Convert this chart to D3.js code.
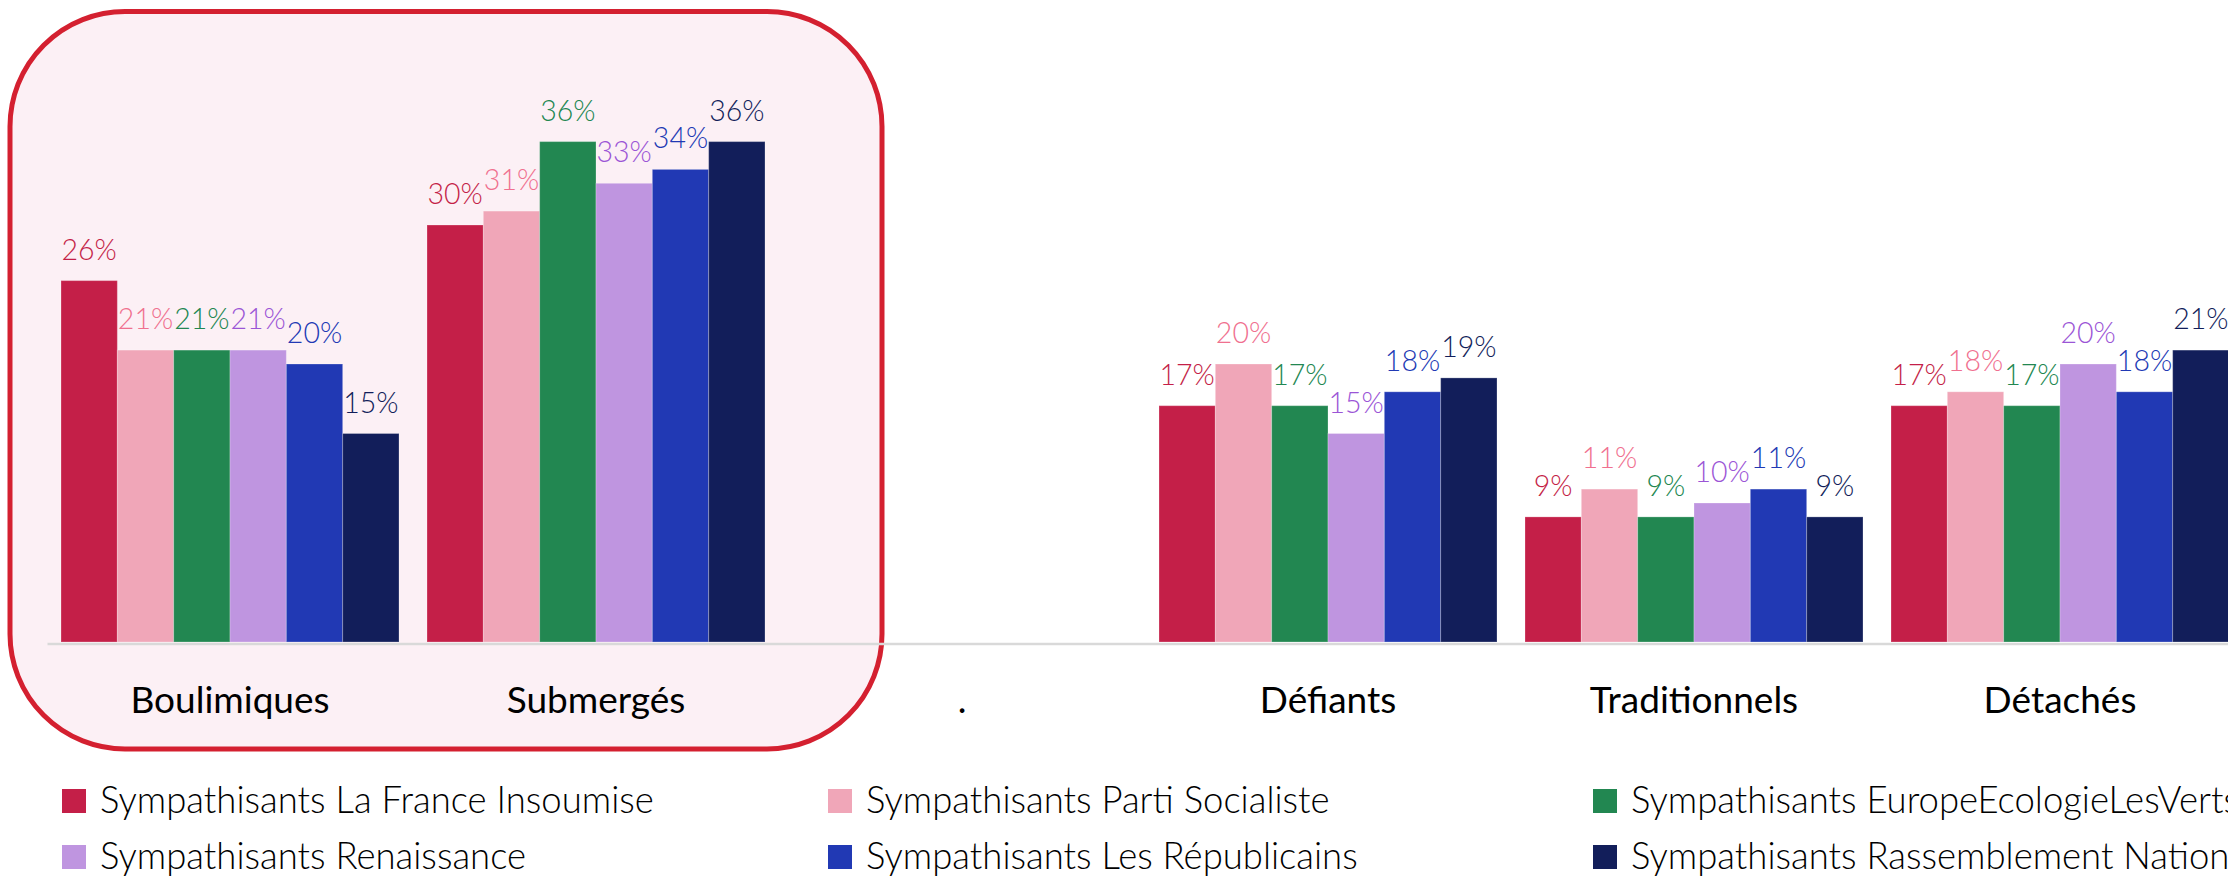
<!DOCTYPE html>
<html>
<head>
<meta charset="utf-8">
<script src="https://cdn.jsdelivr.net/npm/d3@7"></script>
<style>
html,body{margin:0;padding:0;background:#ffffff;overflow:hidden}
svg{display:block}
</style>
</head>
<body>
<svg id="chart" width="2228" height="877"></svg>
<script>
// ---------- DATA ----------
const categories = ["Boulimiques", "Submergés", ".", "Défiants", "Traditionnels", "Détachés"];
const seriesNames = [
  "Sympathisants La France Insoumise",
  "Sympathisants Parti Socialiste",
  "Sympathisants EuropeEcologieLesVerts",
  "Sympathisants Renaissance",
  "Sympathisants Les Républicains",
  "Sympathisants Rassemblement National"
];
const valuesLFI  = [26, 30, null, 17,  9, 17];
const valuesPS   = [21, 31, null, 20, 11, 18];
const valuesEELV = [21, 36, null, 17,  9, 17];
const valuesREN  = [21, 33, null, 15, 10, 20];
const valuesLR   = [20, 34, null, 18, 11, 18];
const valuesRN   = [15, 36, null, 19,  9, 21];
const highlightedCategories = ["Boulimiques", "Submergés"];

// ---------- STYLE ----------
const barColors   = ["#c41f48", "#f0a6b8", "#228751", "#bf95e0", "#2139b4", "#121e5a"];
const labelColors = ["#c41f48", "#f0708f", "#228751", "#9b55d6", "#2139b4", "#121e5a"];
const seriesValues = [valuesLFI, valuesPS, valuesEELV, valuesREN, valuesLR, valuesRN];

const svg = d3.select("#chart");

const x = d3.scaleBand()
  .domain(categories)
  .range([47, 2243])
  .paddingInner(28 / 366)
  .paddingOuter(14 / 366);

const xs = d3.scaleBand()
  .domain(seriesNames)
  .range([0, x.bandwidth()])
  .padding(0);

const y = d3.scaleLinear().domain([0, 40]).range([642, 86]);

// ---------- HIGHLIGHT BOX ----------
const hx0 = x(highlightedCategories[0]) - 51;
const hx1 = x(highlightedCategories[highlightedCategories.length - 1]) + x.bandwidth() + 117;
svg.append("rect")
  .attr("x", hx0).attr("y", 11.5)
  .attr("width", hx1 - hx0).attr("height", 749 - 11.5)
  .attr("rx", 115).attr("ry", 115)
  .attr("fill", "#fcf0f5")
  .attr("stroke", "#d42030")
  .attr("stroke-width", 5);

// ---------- BARS ----------
const rows = [];
categories.forEach((c, ci) => {
  seriesNames.forEach((s, si) => {
    const v = seriesValues[si][ci];
    if (v !== null && v !== undefined) rows.push({cat: c, series: s, si: si, value: v});
  });
});

const g = svg.append("g");
g.selectAll("rect.bar")
  .data(rows)
  .join("rect")
  .attr("class", "bar")
  .attr("x", d => x(d.cat) + xs(d.series))
  .attr("y", d => y(d.value))
  .attr("width", xs.bandwidth())
  .attr("height", d => y(0) - y(d.value))
  .attr("fill", d => barColors[d.si])
  .attr("stroke", "rgba(255,255,255,0.25)")
  .attr("stroke-width", 1);

// axis baseline
const xAxis = d3.axisBottom(x).tickSize(0).tickPadding(0).tickFormat("");
const axisG = svg.append("g").attr("transform", `translate(0,${y(0) + 1.5})`).call(xAxis);
axisG.select(".domain").attr("stroke", "#d9d9d9").attr("stroke-width", 2.5);

// value labels
g.selectAll("text.val")
  .data(rows)
  .join("text")
  .attr("class", "val")
  .attr("x", d => x(d.cat) + xs(d.series) + xs.bandwidth() / 2)
  .attr("y", d => y(d.value) - 21)
  .attr("text-anchor", "middle")
  .attr("font-family", "Lato, 'Open Sans', sans-serif")
  .attr("font-weight", 300)
  .attr("font-size", 28.5)
  .attr("fill", d => labelColors[d.si])
  .text(d => d.value + "%");

// category labels
svg.append("g").selectAll("text.cat")
  .data(categories)
  .join("text")
  .attr("class", "cat")
  .attr("x", d => x(d) + x.bandwidth() / 2)
  .attr("y", 713)
  .attr("text-anchor", "middle")
  .attr("font-family", "Lato, 'Open Sans', sans-serif")
  .attr("font-weight", 400)
  .attr("font-size", 37)
  .attr("fill", "#000000")
  .text(d => d);

// ---------- LEGEND ----------
const legendX = [62, 828, 1593];
const legendY = [789, 845];
const leg = svg.append("g").selectAll("g.leg")
  .data(seriesNames)
  .join("g")
  .attr("class", "leg")
  .attr("transform", (d, i) => `translate(${legendX[i % 3]},${legendY[Math.floor(i / 3)]})`);
leg.append("rect")
  .attr("width", 24).attr("height", 24)
  .attr("fill", (d, i) => barColors[i]);
leg.append("text")
  .attr("x", 38).attr("y", 24)
  .attr("font-family", "Lato, 'Open Sans', sans-serif")
  .attr("font-weight", 300)
  .attr("font-size", 36.5)
  .attr("fill", "#000000")
  .text(d => d);
</script>
</body>
</html>
